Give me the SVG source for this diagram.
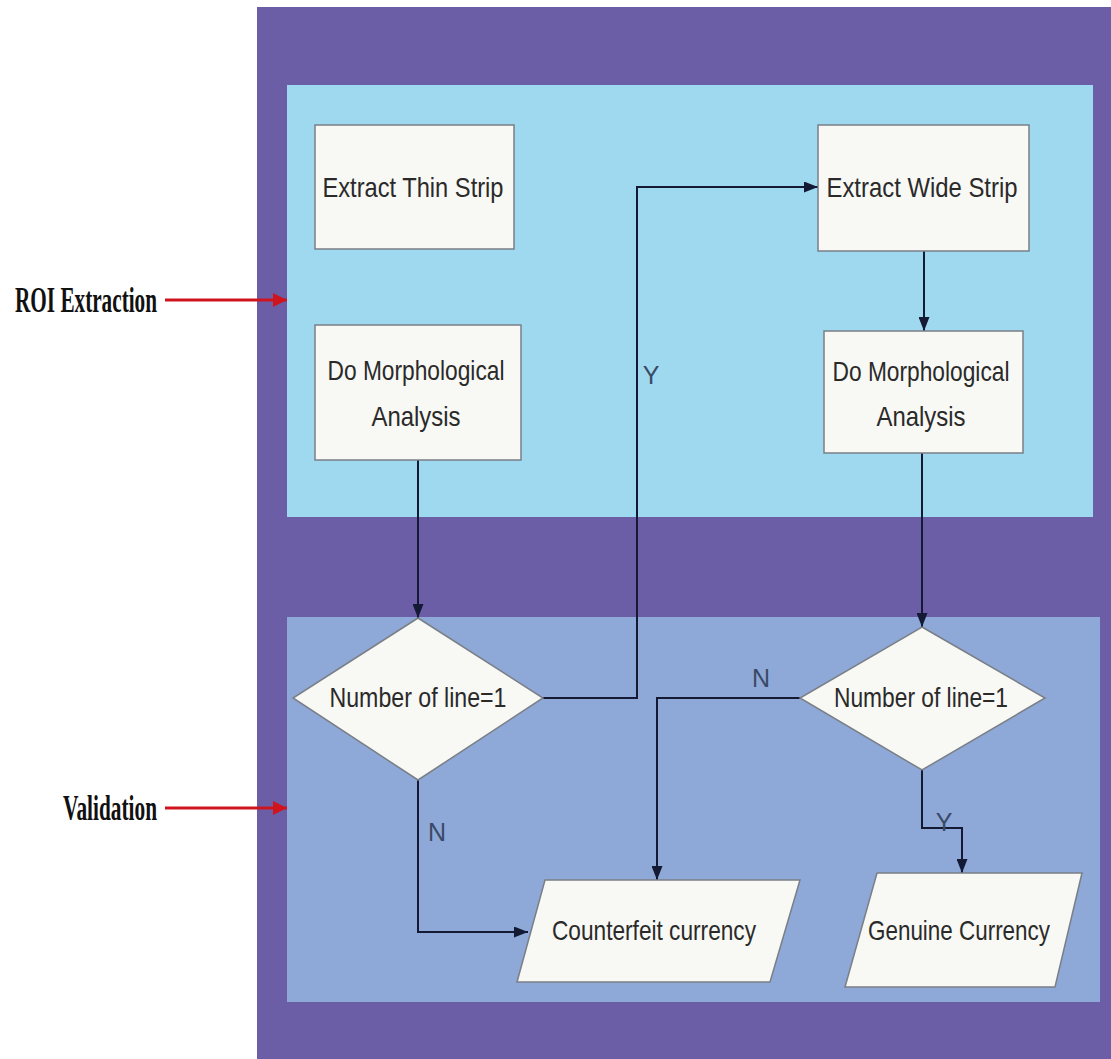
<svg xmlns="http://www.w3.org/2000/svg" width="1111" height="1059" viewBox="0 0 1111 1059">
<defs>
<style>
.t{font-family:"Liberation Sans Narrow","Liberation Sans",Arial,sans-serif;font-size:28px;fill:#2a2a2a;text-anchor:middle;dominant-baseline:central}
.lab{font-family:"Liberation Sans Narrow","Liberation Sans",Arial,sans-serif;font-size:25px;fill:#3a4a66;text-anchor:middle;dominant-baseline:central}
.side{font-family:"Liberation Serif","Times New Roman",serif;font-weight:bold;font-size:35px;fill:#111;dominant-baseline:central}
.box{fill:#f8f8f4;stroke:#7a7f86;stroke-width:1.5}
.c{fill:none;stroke:#141a33;stroke-width:2}
.r{fill:none;stroke:#d0141e;stroke-width:3}
</style>
<marker id="ah" viewBox="0 0 14 11" refX="14" refY="5.5" markerWidth="14" markerHeight="11" markerUnits="userSpaceOnUse" orient="auto">
<path d="M0,0 L14,5.5 L0,11 z" fill="#141a33"/>
</marker>
<marker id="ra" viewBox="0 0 10 10" refX="10" refY="5" markerWidth="14" markerHeight="14" markerUnits="userSpaceOnUse" orient="auto">
<path d="M0,0 L10,5 L0,10 z" fill="#d0141e"/>
</marker>
</defs>
<rect width="1111" height="1059" fill="#ffffff"/>
<g id="background">
<rect x="257" y="7" width="860" height="1052" fill="#6b5ea6"/>
<rect id="roi-panel" x="287" y="85" width="806" height="432" fill="#9fd9ef"/>
<rect id="validation-panel" x="287" y="617" width="813" height="385" fill="#8ea8d8"/>
</g>
<g id="side-labels">
<text class="side" x="15" y="300" textLength="142" lengthAdjust="spacingAndGlyphs">ROI Extraction</text>
<path class="r" d="M165,300 L287,300" marker-end="url(#ra)"/>
<text class="side" x="63" y="808" textLength="94" lengthAdjust="spacingAndGlyphs">Validation</text>
<path class="r" d="M165,808 L287,808" marker-end="url(#ra)"/>
</g>
<g id="connectors">
<path class="c" d="M418,460 L418,618" marker-end="url(#ah)"/>
<path class="c" d="M543,698 L637,698 L637,187 L818,187" marker-end="url(#ah)"/>
<path class="c" d="M924,251 L924,331" marker-end="url(#ah)"/>
<path class="c" d="M922,453 L922,627" marker-end="url(#ah)"/>
<path class="c" d="M800,698 L657,698 L657,880" marker-end="url(#ah)"/>
<path class="c" d="M418,780 L418,932 L528,932" marker-end="url(#ah)"/>
<path class="c" d="M922,770 L922,828 L962,828 L962,873" marker-end="url(#ah)"/>
<text class="lab" x="651" y="375">Y</text>
<text class="lab" x="761" y="678">N</text>
<text class="lab" x="437" y="832">N</text>
<text class="lab" x="944" y="822">Y</text>
</g>
<g id="extract-thin">
<rect class="box" x="315" y="125" width="199" height="124"/>
<text class="t" x="413" y="187" textLength="181" lengthAdjust="spacingAndGlyphs">Extract Thin Strip</text>
</g>
<g id="morph-left">
<rect class="box" x="315" y="325" width="206" height="135"/>
<text class="t" x="416" y="370" textLength="177" lengthAdjust="spacingAndGlyphs">Do Morphological</text>
<text class="t" x="416" y="416" textLength="89" lengthAdjust="spacingAndGlyphs">Analysis</text>
</g>
<g id="extract-wide">
<rect class="box" x="818" y="125" width="211" height="126"/>
<text class="t" x="922" y="187" textLength="191" lengthAdjust="spacingAndGlyphs">Extract Wide Strip</text>
</g>
<g id="morph-right">
<rect class="box" x="824" y="331" width="199" height="122"/>
<text class="t" x="921" y="371" textLength="177" lengthAdjust="spacingAndGlyphs">Do Morphological</text>
<text class="t" x="921" y="416" textLength="89" lengthAdjust="spacingAndGlyphs">Analysis</text>
</g>
<g id="decision-left">
<polygon class="box" points="418,618 543,698 418,780 293,698"/>
<text class="t" x="418" y="697" textLength="177" lengthAdjust="spacingAndGlyphs">Number of line=1</text>
</g>
<g id="decision-right">
<polygon class="box" points="922,627 1045,698 922,770 800,698"/>
<text class="t" x="921" y="697" textLength="174" lengthAdjust="spacingAndGlyphs">Number of line=1</text>
</g>
<g id="counterfeit">
<polygon class="box" points="545,880 800,880 770,982 517,982"/>
<text class="t" x="654" y="930" textLength="204" lengthAdjust="spacingAndGlyphs">Counterfeit currency</text>
</g>
<g id="genuine">
<polygon class="box" points="877,873 1082,873 1055,987 845,987"/>
<text class="t" x="959" y="930" textLength="182" lengthAdjust="spacingAndGlyphs">Genuine Currency</text>
</g>
</svg>
